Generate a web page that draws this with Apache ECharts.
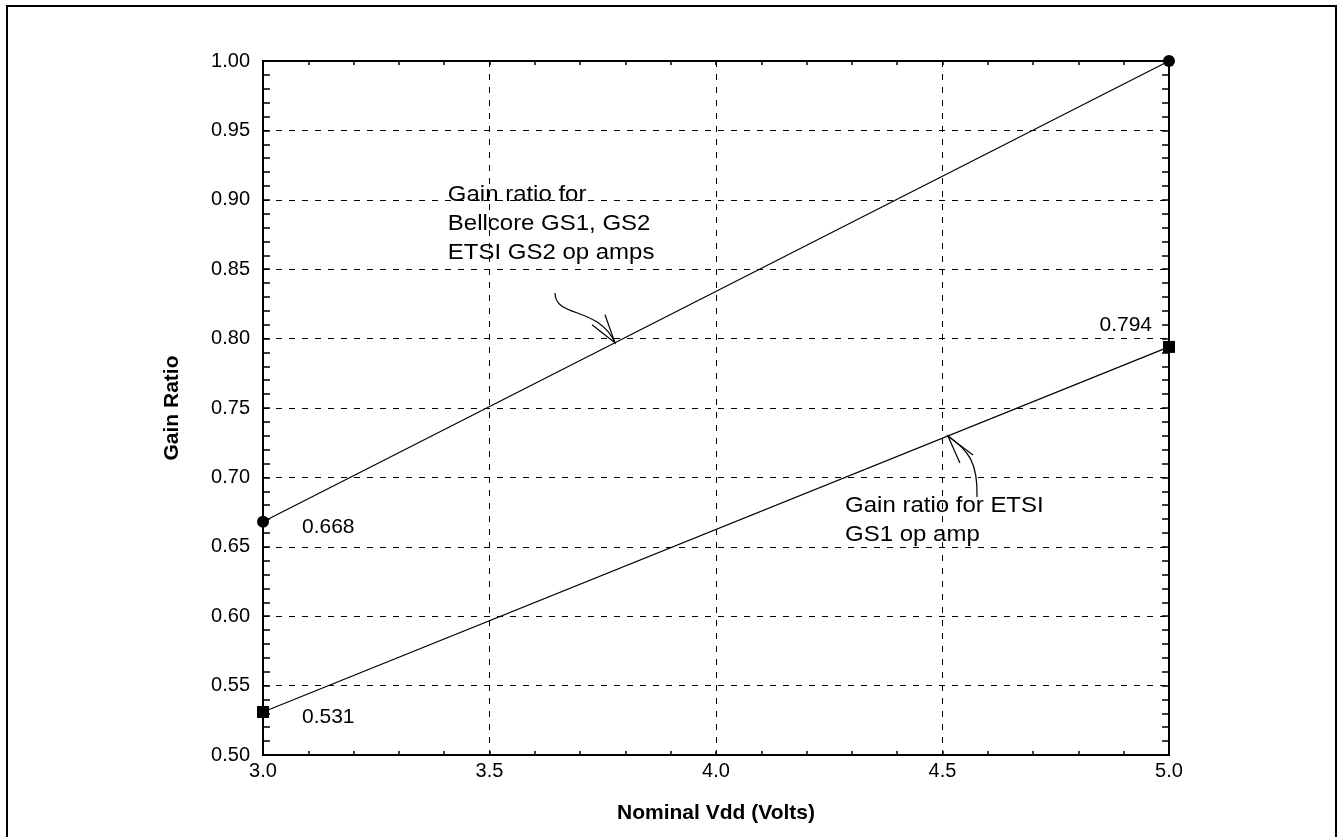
<!DOCTYPE html>
<html>
<head>
<meta charset="utf-8">
<script src="https://cdn.jsdelivr.net/npm/echarts@6/dist/echarts.min.js"></script>
<style>
html,body{margin:0;padding:0;background:#fff;}
#chart{width:1339px;height:837px;}
</style>
</head>
<body>
<div id="chart"></div>
<script>
// ---- data ----
const vddVolts = [3.0, 5.0];
const bellcoreGain = [0.668, 1.00];
const etsiGs1Gain = [0.531, 0.794];
const bellcoreLabelled = [true, false];
const etsiLabelled = [true, true];
const xTitle = 'Nominal Vdd (Volts)';
const yTitle = 'Gain Ratio';
const note1Lines = ['Gain ratio for', 'Bellcore GS1, GS2', 'ETSI GS2 op amps'];
const note2Lines = ['Gain ratio for ETSI', 'GS1 op amp'];
// annotation anchors in data space
const note1Anchor = [3.408, 0.9035];
const note2Anchor = [4.285, 0.6794];
const arrow1 = { start: [3.6446, 0.8329], c1: [3.6446, 0.8148], c2: [3.7395, 0.8235], tip: [3.777, 0.797] };
const arrow2 = { start: [4.5762, 0.6859], c1: [4.5784, 0.7111], c2: [4.5563, 0.7197], tip: [4.512, 0.7298] };

const FONT = '"Liberation Sans", Arial, Helvetica, sans-serif';
const chart = echarts.init(document.getElementById('chart'));

const labelLeftBelow = { show: true, position: 'inside', align: 'left', verticalAlign: 'middle', offset: [39, 5], color: '#000', fontSize: 21, fontFamily: FONT, formatter: p => p.value[1].toFixed(3) };
const labelLeftAbove = { show: true, position: 'inside', align: 'right', verticalAlign: 'middle', offset: [-17, -22], color: '#000', fontSize: 21, fontFamily: FONT, formatter: p => p.value[1].toFixed(3) };

function buildData(ys, flags, lastAbove) {
  return vddVolts.map((x, i) => {
    const d = { value: [x, ys[i]] };
    if (flags[i]) d.label = (lastAbove && i === ys.length - 1) ? labelLeftAbove : labelLeftBelow;
    return d;
  });
}

const axisText = { color: '#000', fontSize: 20, fontFamily: FONT };
const gridLine = { show: true, lineStyle: { color: '#000', width: 1, type: [6, 7] } };
const tickStyle = { color: '#000', width: 1.5 };

const option = {
  animation: false,
  backgroundColor: '#fff',
  grid: { left: 263, right: 170, top: 61, bottom: 82, containLabel: false },
  xAxis: [
    {
      type: 'value', min: 3.0, max: 5.0, interval: 0.5, position: 'bottom',
      name: xTitle, nameLocation: 'middle', nameGap: 48,
      nameTextStyle: { color: '#000', fontSize: 21, fontWeight: 'bold', fontFamily: FONT },
      axisLine: { show: true, onZero: false, lineStyle: { color: '#000', width: 2 } },
      axisTick: { show: true, inside: true, length: 4, lineStyle: tickStyle },
      minorTick: { show: true, splitNumber: 5, length: 4, lineStyle: tickStyle },
      axisLabel: Object.assign({ margin: 6, formatter: v => v.toFixed(1) }, axisText),
      splitLine: gridLine
    },
    {
      type: 'value', min: 3.0, max: 5.0, interval: 0.5, position: 'top',
      axisLine: { show: true, onZero: false, lineStyle: { color: '#000', width: 2 } },
      axisTick: { show: true, inside: true, length: 4, lineStyle: tickStyle },
      minorTick: { show: true, splitNumber: 5, length: 4, lineStyle: tickStyle },
      axisLabel: { show: false }, splitLine: { show: false }
    }
  ],
  yAxis: [
    {
      type: 'value', min: 0.5, max: 1.0, interval: 0.05, position: 'left',
      name: yTitle, nameLocation: 'middle', nameGap: 80,
      nameTextStyle: { color: '#000', fontSize: 21, fontWeight: 'bold', fontFamily: FONT },
      axisLine: { show: true, onZero: false, lineStyle: { color: '#000', width: 2 } },
      axisTick: { show: true, inside: true, length: 7, lineStyle: tickStyle },
      minorTick: { show: true, splitNumber: 5, length: 7, lineStyle: tickStyle },
      axisLabel: Object.assign({ margin: 13, formatter: v => v.toFixed(2) }, axisText),
      splitLine: gridLine
    },
    {
      type: 'value', min: 0.5, max: 1.0, interval: 0.05, position: 'right',
      axisLine: { show: true, onZero: false, lineStyle: { color: '#000', width: 2 } },
      axisTick: { show: true, inside: true, length: 7, lineStyle: tickStyle },
      minorTick: { show: true, splitNumber: 5, length: 7, lineStyle: tickStyle },
      axisLabel: { show: false }, splitLine: { show: false }
    }
  ],
  series: [
    {
      name: 'Bellcore GS1, GS2 / ETSI GS2', type: 'line', xAxisIndex: 0, yAxisIndex: 0,
      data: buildData(bellcoreGain, bellcoreLabelled, false),
      symbol: 'circle', symbolSize: 12, showAllSymbol: true,
      lineStyle: { color: '#000', width: 1.2 }, itemStyle: { color: '#000' },
      z: 5
    },
    {
      name: 'ETSI GS1', type: 'line', xAxisIndex: 0, yAxisIndex: 0,
      data: buildData(etsiGs1Gain, etsiLabelled, true),
      symbol: 'rect', symbolSize: 12, showAllSymbol: true,
      lineStyle: { color: '#000', width: 1.2 }, itemStyle: { color: '#000' },
      z: 5
    }
  ]
};
chart.setOption(option);

function P(pt) { return chart.convertToPixel({ xAxisIndex: 0, yAxisIndex: 0 }, pt); }

function textLines(anchor, lines, spacing) {
  const a = P(anchor);
  return lines.map((t, i) => ({
    type: 'text', x: a[0], y: a[1] + i * spacing, scaleX: 1.09, z: 10,
    style: { text: t, fill: '#000', fontSize: 22, fontFamily: FONT, textAlign: 'left', textVerticalAlign: 'middle' }
  }));
}

function curvedArrow(a, head1, head2) {
  const s = P(a.start), c1 = P(a.c1), c2 = P(a.c2), t = P(a.tip);
  return [
    { type: 'bezierCurve', z: 10, shape: { x1: s[0], y1: s[1], cpx1: c1[0], cpy1: c1[1], cpx2: c2[0], cpy2: c2[1], x2: t[0], y2: t[1] },
      style: { stroke: '#000', lineWidth: 1.2, fill: null } },
    { type: 'polyline', z: 10, shape: { points: [[t[0] + head1[0], t[1] + head1[1]], t, [t[0] + head2[0], t[1] + head2[1]]] },
      style: { stroke: '#000', lineWidth: 1.2, fill: null } }
  ];
}

const graphics = [
  { type: 'rect', z: 0, shape: { x: 7, y: 6, width: 1329, height: 860 }, style: { stroke: '#000', lineWidth: 2, fill: null } }
]
  .concat(textLines(note1Anchor, note1Lines, 29))
  .concat(textLines(note2Anchor, note2Lines, 29))
  .concat(curvedArrow(arrow1, [-23, -18], [-10, -28]))
  .concat(curvedArrow(arrow2, [12, 27], [25, 19]));

chart.setOption({ graphic: graphics });
</script>
</body>
</html>
